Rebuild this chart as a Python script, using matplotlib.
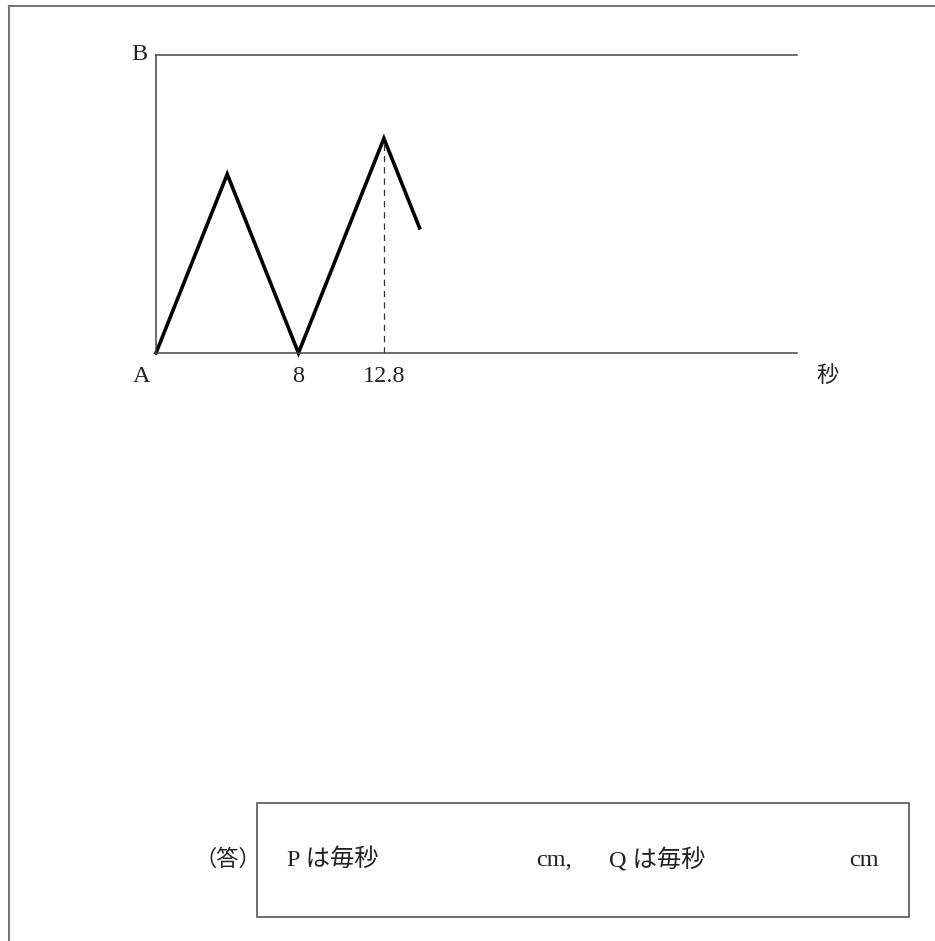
"""Distance-time graph of point P moving between A and B, with an answer box."""
import matplotlib
matplotlib.use("Agg")
import matplotlib.pyplot as plt
from matplotlib.patches import Rectangle
from matplotlib.lines import Line2D

plt.rcParams['font.family'] = ['Liberation Serif', 'Noto Sans CJK JP', 'DejaVu Sans']

# Data (seconds, fraction of the distance A -> B)
times = [0, 4, 8, 12.8, 14.8]
positions = [0, 0.6, 0, 0.72, 0.42]
tick_times = [8, 12.8]
tick_labels = ["8", "12.8"]
dashed_time = 12.8
x_max = 36

W, H = 935, 941
FS = 17.5
INK = "#222222"
fig = plt.figure(figsize=(W / 100, H / 100), dpi=100)


def fx(px):
    return px / W


def fy(py):
    return 1 - py / H


# page border (left and top only)
fig.add_artist(Line2D([fx(9), fx(9)], [fy(6), 0], transform=fig.transFigure, color="#777777", lw=1.5))
fig.add_artist(Line2D([fx(9), 1], [fy(6), fy(6)], transform=fig.transFigure, color="#777777", lw=1.5))

# graph axes: origin at (156, 353), B line at y=55, right end at x=797
ax = fig.add_axes([fx(156), fy(353), fx(797) - fx(156), fy(55) - fy(353)])
ax.set_xlim(0, x_max)
ax.set_ylim(0, 1)
for side in ["left", "top", "bottom"]:
    ax.spines[side].set_color("#444444")
    ax.spines[side].set_linewidth(1.1)
ax.spines["right"].set_visible(False)
ax.set_xticks([])
ax.set_yticks([])

ax.plot(times, positions, color="black", lw=2.6, solid_joinstyle="miter", clip_on=False)
peak = positions[times.index(dashed_time)]
ax.plot([dashed_time, dashed_time], [0, peak], color="#333333", lw=0.9, ls=(0, (5, 4)))

for t, lab in zip(tick_times, tick_labels):
    ax.text(t, -0.045, lab, ha="center", va="top", fontsize=FS, color=INK)
ax.text(-0.8, -0.045, "A", ha="center", va="top", fontsize=FS, color=INK)
ax.text(-0.95, 1.0, "B", ha="center", va="center", fontsize=FS, color=INK)
ax.text(37.7, -0.045, "秒", ha="center", va="top", fontsize=16, color=INK)

# answer box
fig.add_artist(Rectangle((fx(257), fy(917)), fx(909) - fx(257), fy(803) - fy(917),
                         transform=fig.transFigure, fill=False, edgecolor="#555555", lw=1.2))
ty = fy(860)
fig.text(fx(228), ty, "（答）", ha="center", va="center", fontsize=16, color=INK)
fig.text(fx(287), ty, "P は毎秒", ha="left", va="center", fontsize=FS, color=INK)
fig.text(fx(536), ty, "cm,", ha="left", va="center", fontsize=FS, color=INK)
fig.text(fx(609), ty, "Q は毎秒", ha="left", va="center", fontsize=FS, color=INK)
fig.text(fx(849), ty, "cm", ha="left", va="center", fontsize=FS, color=INK)

fig.savefig("out.png", dpi=100)
